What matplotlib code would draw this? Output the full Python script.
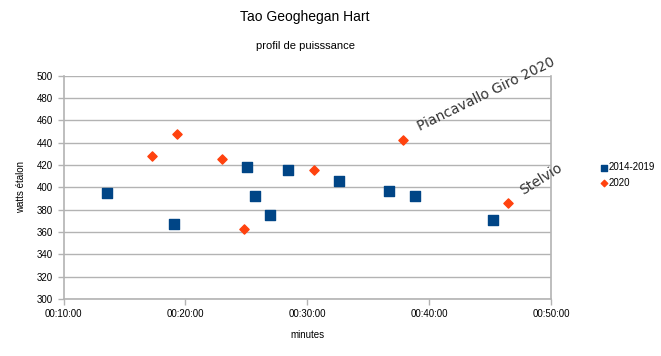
import matplotlib
matplotlib.use("Agg")
import matplotlib.pyplot as plt
from matplotlib.ticker import FixedLocator, FuncFormatter

plt.rcParams['font.family'] = ['Liberation Sans', 'DejaVu Sans']

# minutes (decimal) and standardized watts
t_2014_2019 = [13.57, 19.09, 25.07, 25.68, 26.94, 28.44, 32.62, 36.73, 38.81, 45.25]
w_2014_2019 = [395, 367, 418, 392, 375, 415, 406, 397, 392, 371]
t_2020 = [17.23, 19.34, 23.0, 24.78, 30.55, 37.85, 46.46]
w_2020 = [428, 448, 425, 363, 415, 442, 386]
series_labels = ["2014-2019", "2020"]
x_ticks = [10, 20, 30, 40, 50]
y_ticks = list(range(300, 501, 20))
annotations = [("Piancavallo Giro 2020", 37.85, 442), ("Stelvio", 46.46, 386)]

fig = plt.figure(figsize=(6.61, 3.56), dpi=100)
ax = fig.add_axes([63.5/661, 1-299/356, (551-63.5)/661, (299-75.5)/356])

blue = "#004586"
orange = "#ff420e"
grid = "#b3b3b3"

ax.scatter(t_2014_2019, w_2014_2019, marker='s', s=48, color=blue, label=series_labels[0], zorder=3)
ax.scatter(t_2020, w_2020, marker='D', s=22, color=orange, label=series_labels[1], zorder=3)

ax.set_xlim(10, 50)
ax.set_ylim(300, 500)
ax.xaxis.set_major_locator(FixedLocator(x_ticks))
ax.yaxis.set_major_locator(FixedLocator(y_ticks))
ax.xaxis.set_major_formatter(FuncFormatter(lambda v, p: "00:%02d:00" % int(round(v))))
ax.yaxis.grid(True, color=grid, linewidth=1.0)
ax.set_axisbelow(True)
for s in ['left', 'bottom', 'right']:
    ax.spines[s].set_color(grid)
    ax.spines[s].set_linewidth(1.2)
ax.spines['top'].set_visible(False)
ax.tick_params(axis='both', colors=grid, labelcolor='black', labelsize=7, length=4, width=1)
ax.tick_params(axis='x', pad=3)

ax.set_xlabel("minutes", fontsize=7, labelpad=8)
ax.set_ylabel("watts étalon", fontsize=7, labelpad=8)

fig.text(305/661, 1-17/356, "Tao Geoghegan Hart", ha='center', va='center', fontsize=10)
fig.text(305/661, 1-46/356, "profil de puisssance", ha='center', va='center', fontsize=8)

ax.annotate(annotations[0][0], (annotations[0][1], annotations[0][2]), xytext=(13, 5),
            textcoords='offset points', rotation=26, fontsize=10, color='#333333',
            family='DejaVu Sans', ha='left', va='bottom', rotation_mode='anchor', annotation_clip=False)
ax.annotate(annotations[1][0], (annotations[1][1], annotations[1][2]), xytext=(12, 4),
            textcoords='offset points', rotation=32, fontsize=10, color='#333333',
            family='DejaVu Sans', ha='left', va='bottom', rotation_mode='anchor', annotation_clip=False)

leg = ax.legend(loc='center left', bbox_to_anchor=(595/661, 1-175/356), bbox_transform=fig.transFigure,
                frameon=False, fontsize=7, handletextpad=0.0, borderaxespad=0, labelspacing=0.55,
                handlelength=1.0, scatterpoints=1, markerscale=0.7)

fig.savefig("out.png", dpi=100)
